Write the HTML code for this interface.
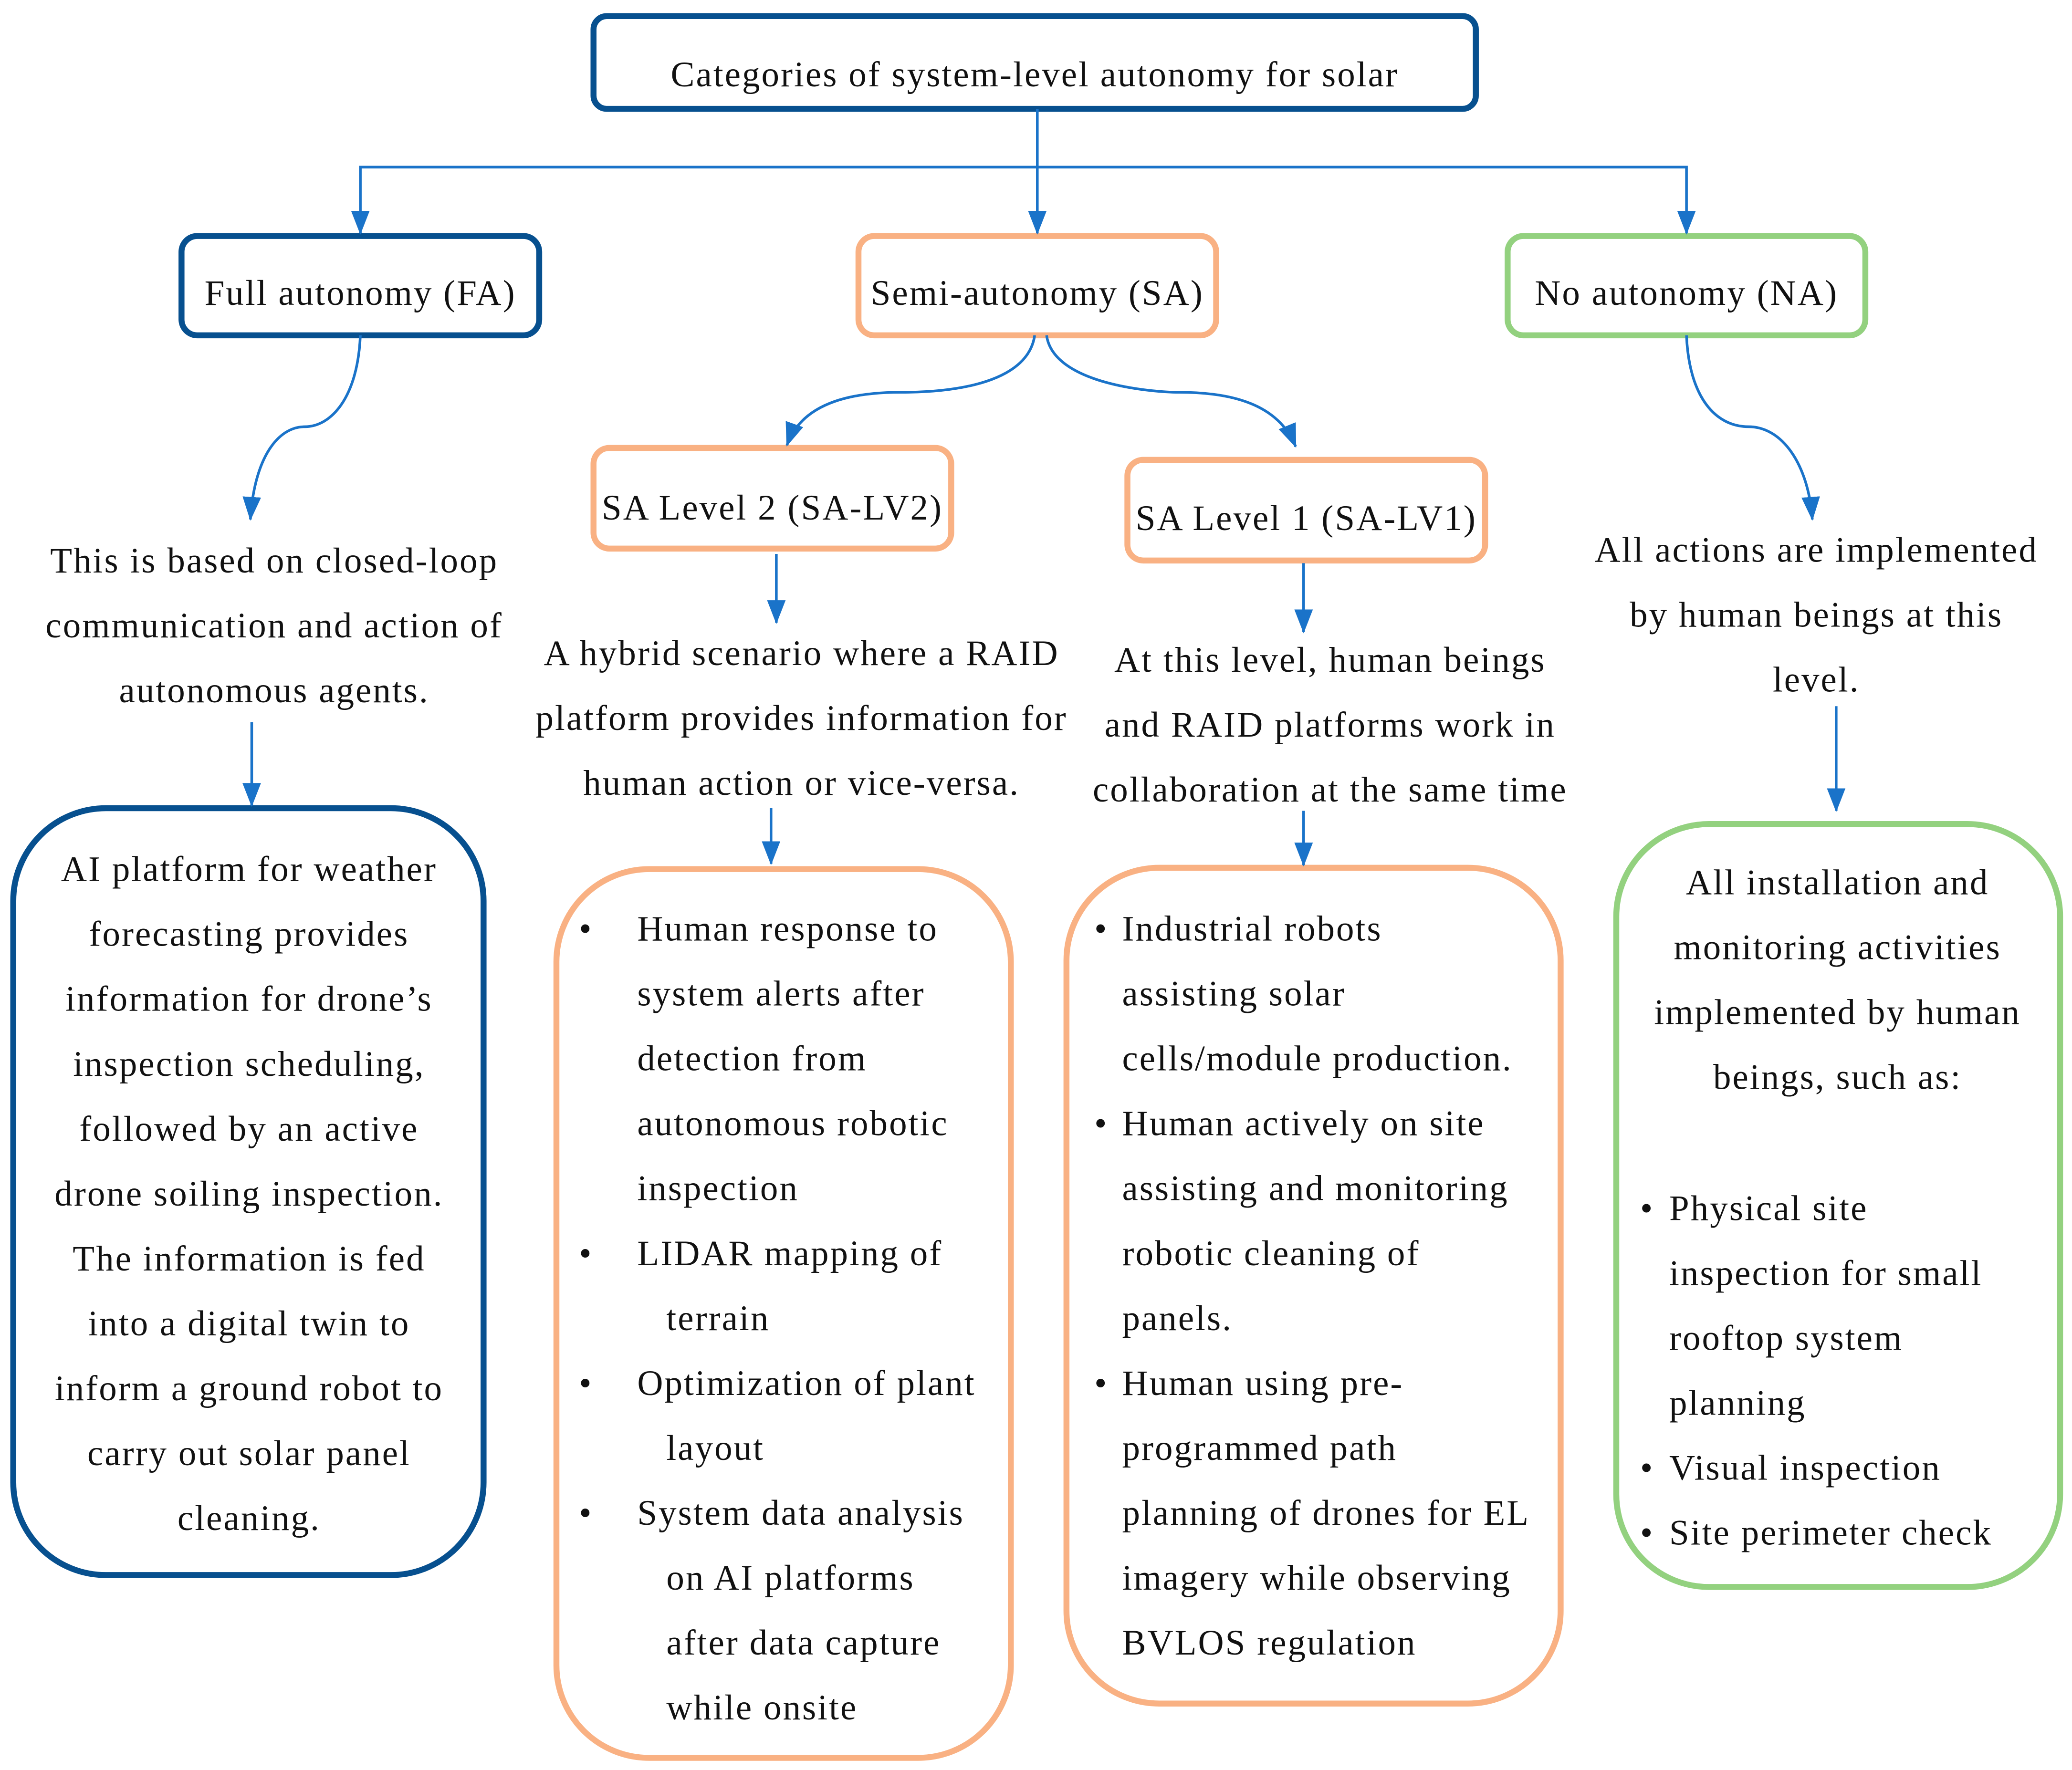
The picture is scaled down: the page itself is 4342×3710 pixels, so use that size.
<!DOCTYPE html>
<html><head><meta charset="utf-8"><style>
html,body{margin:0;padding:0;background:#fff;}
svg{display:block}
text{font-family:"Liberation Serif",serif;font-size:27px;letter-spacing:1.1px;fill:#111;}
</style></head><body>
<svg width="4342" height="3710" viewBox="0 0 1564 1336" xmlns="http://www.w3.org/2000/svg">
<defs>
<marker id="b" markerWidth="18" markerHeight="14" refX="17" refY="7" orient="auto" markerUnits="userSpaceOnUse" viewBox="0 0 18 14"><path d="M0,0 L18,7 L0,14Z" fill="#1a73c9"/></marker>
</defs>
<g fill="#fff" stroke-width="4.5">
<rect x="448" y="12" width="666" height="70" rx="10" stroke="#07508f"/>
<rect x="137" y="178" width="270" height="75" rx="12" stroke="#07508f"/>
<rect x="648" y="178" width="270" height="75" rx="12" stroke="#f9b183"/>
<rect x="1138" y="178" width="270" height="75" rx="12" stroke="#93d17f"/>
<rect x="448" y="338" width="270" height="76" rx="12" stroke="#f9b183"/>
<rect x="851" y="347" width="270" height="76" rx="12" stroke="#f9b183"/>
<rect x="10" y="610" width="355" height="579" rx="70" stroke="#07508f"/>
<rect x="420" y="656" width="343" height="671" rx="70" stroke="#f9b183"/>
<rect x="805" y="655" width="373" height="631" rx="70" stroke="#f9b183"/>
<rect x="1220" y="622" width="335" height="576" rx="70" stroke="#93d17f"/>
</g>
<g fill="none" stroke="#1a73c9" stroke-width="2" marker-end="url(#b)">
<path d="M783,82 V176"/>
<path d="M783,126 H272 V176"/>
<path d="M783,126 H1273 V176"/>
<path d="M272,253 C270,300 250,322 230,322 C210,322 192,345 189,392"/>
<path d="M1273,253 C1275,300 1295,322 1320,322 C1345,322 1365,350 1368,392"/>
<path d="M781,253 C775,295 700,296 680,296 C640,296 605,305 594,336"/>
<path d="M790,253 C795,290 870,296 890,296 C930,296 965,305 978,337"/>
<path d="M190,545 V608"/>
<path d="M586,418 V470"/>
<path d="M582,610 V652"/>
<path d="M984,425 V477"/>
<path d="M984,612 V653"/>
<path d="M1386,533 V612"/>
</g>
<g text-anchor="middle">
<text x="781" y="65">Categories of system-level autonomy for solar</text>
<text x="272" y="230">Full autonomy (FA)</text>
<text x="783" y="230">Semi-autonomy (SA)</text>
<text x="1273" y="230">No autonomy (NA)</text>
<text x="583" y="392">SA Level 2 (SA-LV2)</text>
<text x="986" y="400">SA Level 1 (SA-LV1)</text>
<text x="207" y="432">This is based on closed-loop</text>
<text x="207" y="481">communication and action of</text>
<text x="207" y="530">autonomous agents.</text>
<text x="605" y="502">A hybrid scenario where a RAID</text>
<text x="605" y="551">platform provides information for</text>
<text x="605" y="600">human action or vice-versa.</text>
<text x="1004" y="507">At this level, human beings</text>
<text x="1004" y="556">and RAID platforms work in</text>
<text x="1004" y="605">collaboration at the same time</text>
<text x="1371" y="424">All actions are implemented</text>
<text x="1371" y="473">by human beings at this</text>
<text x="1371" y="522">level.</text>
<text x="188" y="665">AI platform for weather</text>
<text x="188" y="714">forecasting provides</text>
<text x="188" y="763">information for drone’s</text>
<text x="188" y="812">inspection scheduling,</text>
<text x="188" y="861">followed by an active</text>
<text x="188" y="910">drone soiling inspection.</text>
<text x="188" y="959">The information is fed</text>
<text x="188" y="1008">into a digital twin to</text>
<text x="188" y="1057">inform a ground robot to</text>
<text x="188" y="1106">carry out solar panel</text>
<text x="188" y="1155">cleaning.</text>
<text x="1387" y="675">All installation and</text>
<text x="1387" y="724">monitoring activities</text>
<text x="1387" y="773">implemented by human</text>
<text x="1387" y="822">beings, such as:</text>
</g>
<g>
<text x="437" y="710">•</text><text x="481" y="710">Human response to</text>
<text x="481" y="759">system alerts after</text>
<text x="481" y="808">detection from</text>
<text x="481" y="857">autonomous robotic</text>
<text x="481" y="906">inspection</text>
<text x="437" y="955">•</text><text x="481" y="955">LIDAR mapping of</text>
<text x="503" y="1004">terrain</text>
<text x="437" y="1053">•</text><text x="481" y="1053">Optimization of plant</text>
<text x="503" y="1102">layout</text>
<text x="437" y="1151">•</text><text x="481" y="1151">System data analysis</text>
<text x="503" y="1200">on AI platforms</text>
<text x="503" y="1249">after data capture</text>
<text x="503" y="1298">while onsite</text>

<text x="826" y="710">•</text><text x="847" y="710">Industrial robots</text>
<text x="847" y="759">assisting solar</text>
<text x="847" y="808">cells/module production.</text>
<text x="826" y="857">•</text><text x="847" y="857">Human actively on site</text>
<text x="847" y="906">assisting and monitoring</text>
<text x="847" y="955">robotic cleaning of</text>
<text x="847" y="1004">panels.</text>
<text x="826" y="1053">•</text><text x="847" y="1053">Human using pre-</text>
<text x="847" y="1102">programmed path</text>
<text x="847" y="1151">planning of drones for EL</text>
<text x="847" y="1200">imagery while observing</text>
<text x="847" y="1249">BVLOS regulation</text>

<text x="1238" y="921">•</text><text x="1260" y="921">Physical site</text>
<text x="1260" y="970">inspection for small</text>
<text x="1260" y="1019">rooftop system</text>
<text x="1260" y="1068">planning</text>
<text x="1238" y="1117">•</text><text x="1260" y="1117">Visual inspection</text>
<text x="1238" y="1166">•</text><text x="1260" y="1166">Site perimeter check</text>
</g>
</svg>
</body></html>
